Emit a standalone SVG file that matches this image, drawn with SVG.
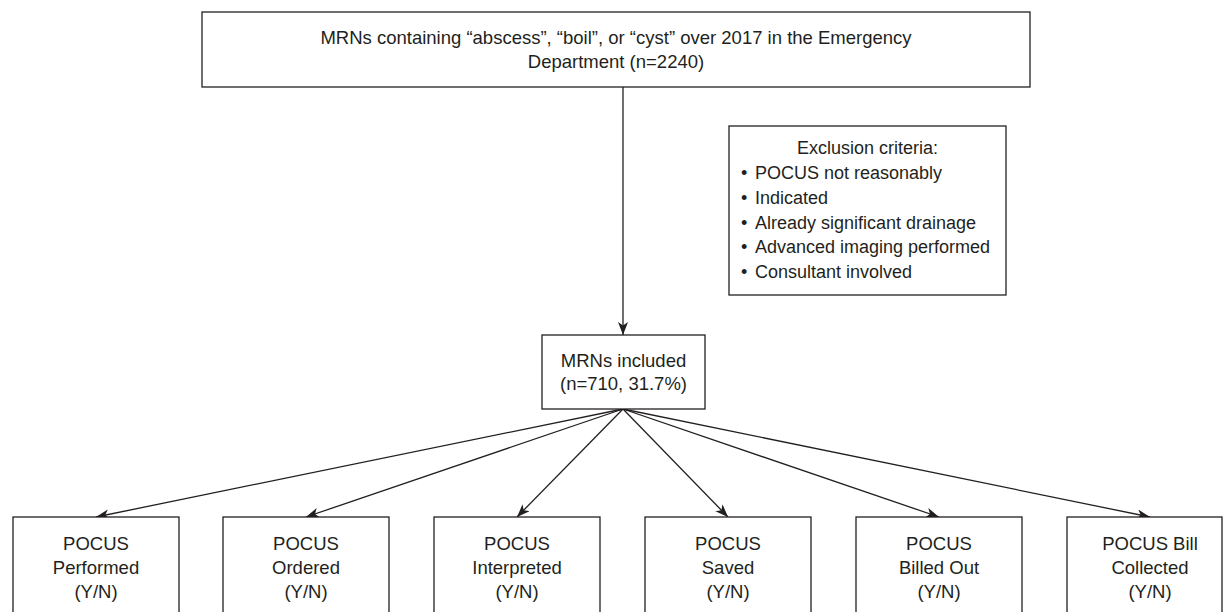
<svg xmlns="http://www.w3.org/2000/svg" width="1228" height="612" viewBox="0 0 1228 612">
<style>
.box{fill:#fff;stroke:#231f20;stroke-width:1.3}
.t{font-family:"Liberation Sans",Arial,Helvetica,sans-serif;font-size:18.5px;fill:#231f20}
.s{font-size:18px}
.c{text-anchor:middle}
.ln{stroke:#231f20;stroke-width:1.3;fill:none;marker-end:url(#ah)}
</style>
<defs>
<marker id="ah" markerUnits="userSpaceOnUse" markerWidth="14" markerHeight="12" refX="13" refY="5" orient="auto">
<path d="M0,0 L13,5 L0,10 L3.5,5 z" fill="#231f20"/>
</marker>
</defs>
<rect width="1228" height="612" fill="#fff"/>
<g id="connectors">
<line class="ln" x1="623" y1="87" x2="623" y2="335"/>
<line class="ln" x1="623" y1="409" x2="96" y2="517"/>
<line class="ln" x1="623" y1="409" x2="306" y2="517"/>
<line class="ln" x1="623" y1="409" x2="517" y2="517"/>
<line class="ln" x1="623" y1="409" x2="728" y2="517"/>
<line class="ln" x1="623" y1="409" x2="939" y2="517"/>
<line class="ln" x1="623" y1="409" x2="1150" y2="517"/>
</g>
<g id="top">
<rect class="box" x="202" y="12" width="828" height="75"/>
<text class="t c" x="616" y="44">MRNs containing “abscess”, “boil”, or “cyst” over 2017 in the Emergency</text>
<text class="t c" x="616" y="68">Department (n=2240)</text>
</g>
<g id="exclusion">
<rect class="box" x="729" y="126" width="277" height="169"/>
<text class="t s c" x="867.5" y="154">Exclusion criteria:</text>
<text class="t s" x="741" y="179">•</text><text class="t s" x="755" y="179">POCUS not reasonably</text>
<text class="t s" x="741" y="204">•</text><text class="t s" x="755" y="204">Indicated</text>
<text class="t s" x="741" y="228.5">•</text><text class="t s" x="755" y="228.5">Already significant drainage</text>
<text class="t s" x="741" y="253">•</text><text class="t s" x="755" y="253">Advanced imaging performed</text>
<text class="t s" x="741" y="278">•</text><text class="t s" x="755" y="278">Consultant involved</text>
</g>
<g id="included">
<rect class="box" x="542" y="335" width="163" height="74"/>
<text class="t c" x="623.5" y="367">MRNs included</text>
<text class="t c" x="623.5" y="390">(n=710, 31.7%)</text>
</g>
<g id="performed">
<rect class="box" x="13" y="517" width="166" height="110"/>
<text class="t c" x="96" y="550">POCUS</text><text class="t c" x="96" y="574">Performed</text><text class="t c" x="96" y="598">(Y/N)</text>
</g>
<g id="ordered">
<rect class="box" x="223" y="517" width="166" height="110"/>
<text class="t c" x="306" y="550">POCUS</text><text class="t c" x="306" y="574">Ordered</text><text class="t c" x="306" y="598">(Y/N)</text>
</g>
<g id="interpreted">
<rect class="box" x="434" y="517" width="166" height="110"/>
<text class="t c" x="517" y="550">POCUS</text><text class="t c" x="517" y="574">Interpreted</text><text class="t c" x="517" y="598">(Y/N)</text>
</g>
<g id="saved">
<rect class="box" x="645" y="517" width="166" height="110"/>
<text class="t c" x="728" y="550">POCUS</text><text class="t c" x="728" y="574">Saved</text><text class="t c" x="728" y="598">(Y/N)</text>
</g>
<g id="billed">
<rect class="box" x="856" y="517" width="166" height="110"/>
<text class="t c" x="939" y="550">POCUS</text><text class="t c" x="939" y="574">Billed Out</text><text class="t c" x="939" y="598">(Y/N)</text>
</g>
<g id="collected">
<rect class="box" x="1067" y="517" width="155" height="110"/>
<text class="t c" x="1150" y="550">POCUS Bill</text><text class="t c" x="1150" y="574">Collected</text><text class="t c" x="1150" y="598">(Y/N)</text>
</g>
</svg>
